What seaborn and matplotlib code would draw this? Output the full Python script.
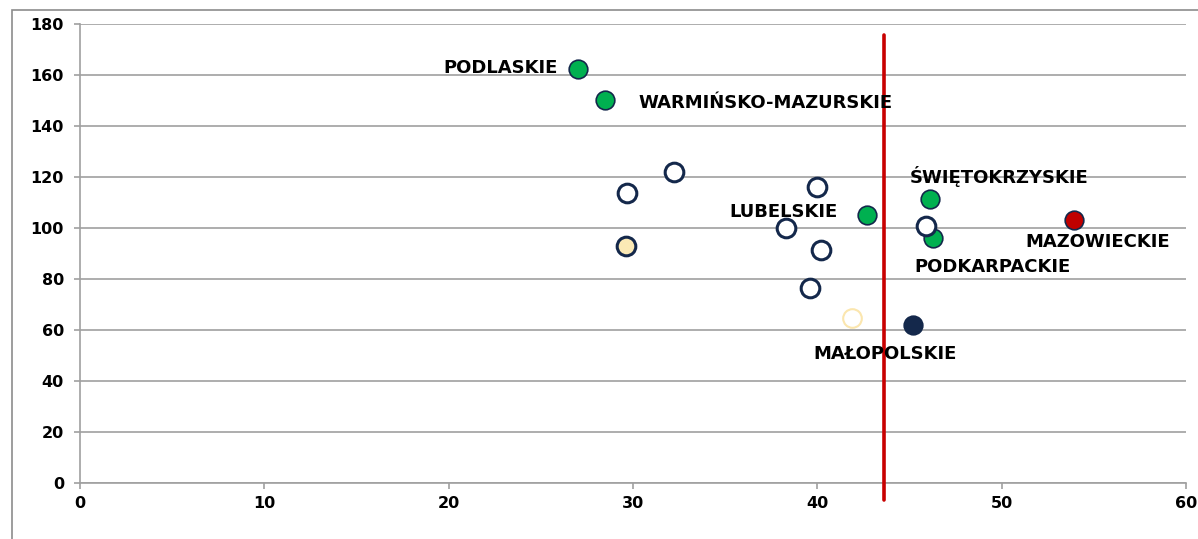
import matplotlib
matplotlib.use("Agg")
import matplotlib.pyplot as plt
from matplotlib.patches import Rectangle
import seaborn as sns
import pandas as pd

# ---- data ----
x_vals = [27.0, 28.5, 29.7, 32.2, 40.0, 38.3, 40.2, 39.6, 45.9, 29.6, 41.9, 45.2, 42.7, 46.1, 46.3, 53.9]
y_vals = [162.4, 150.2, 113.7, 122.0, 116.0, 100.0, 91.4, 76.5, 100.8, 92.9, 64.7, 62.0, 105.1, 111.4, 96.1, 103.1]
groups = ["green", "green", "open", "open", "open", "open", "open", "open", "open",
          "yellow", "pale", "navy", "green", "green", "green", "red"]

label_names = ["PODLASKIE", "WARMIŃSKO-MAZURSKIE", "ŚWIĘTOKRZYSKIE", "LUBELSKIE",
               "MAZOWIECKIE", "PODKARPACKIE", "MAŁOPOLSKIE"]
label_x = [25.9, 30.3, 45.0, 41.1, 51.3, 45.25, 39.8]
label_y = [162.7, 149.0, 120.0, 106.3, 94.5, 84.7, 50.6]
label_ha = ["right", "left", "left", "right", "left", "left", "left"]

threshold_x = 43.6
x_ticks = [0, 10, 20, 30, 40, 50, 60]
y_ticks = [0, 20, 40, 60, 80, 100, 120, 140, 160, 180]

df = pd.DataFrame({"x": x_vals, "y": y_vals, "g": groups})

navy = "#14284B"
styles = {
    "green": dict(color="#00B050", edgecolor=navy, linewidth=1.2),
    "open": dict(color="white", edgecolor=navy, linewidth=2.2),
    "yellow": dict(color="#FBE9B5", edgecolor=navy, linewidth=2.2),
    "pale": dict(color="white", edgecolor="#FBE6AE", linewidth=1.5),
    "navy": dict(color=navy, edgecolor=navy, linewidth=1.2),
    "red": dict(color="#C00000", edgecolor=navy, linewidth=1.2),
}

sns.set_theme(style="white")
plt.rcParams["font.family"] = ["DejaVu Sans"]

fig = plt.figure(figsize=(11.98, 5.39), dpi=100)
ax = fig.add_axes([80 / 1198, 1 - 483 / 539, (1186 - 80) / 1198, (483 - 24) / 539])

# outer chart border
fig.patches.append(Rectangle((12 / 1198, -0.05), 2.0, 1 - 10 / 539 + 0.05,
                             transform=fig.transFigure, fill=False,
                             edgecolor="#8C8C8C", linewidth=1.2))

for g, st in styles.items():
    sub = df[df["g"] == g]
    sns.scatterplot(data=sub, x="x", y="y", ax=ax, s=180, zorder=4, **st)

ax.plot([threshold_x, threshold_x], [175.7, -6.7], color="#C80000",
        linewidth=2.6, clip_on=False, zorder=5)

for name, lx, ly, ha in zip(label_names, label_x, label_y, label_ha):
    ax.text(lx, ly, name, ha=ha, va="center", fontsize=13,
            fontweight="bold", color="black", zorder=6)

ax.set_xlim(0, 60)
ax.set_ylim(0, 180)
ax.set_xticks(x_ticks)
ax.set_yticks(y_ticks)
ax.set_xlabel("")
ax.set_ylabel("")
ax.grid(axis="y", color="#A0A0A0", linewidth=1.2)
ax.grid(axis="x", visible=False)
for side in ["top", "right"]:
    ax.spines[side].set_visible(False)
for side in ["left", "bottom"]:
    ax.spines[side].set_color("#A0A0A0")
    ax.spines[side].set_linewidth(1.2)
ax.tick_params(axis="both", which="major", labelsize=11.5, length=4.5,
               color="#A0A0A0", width=1.2, direction="out",
               bottom=True, left=True, labelcolor="black")
ax.tick_params(axis="y", pad=7)
ax.tick_params(axis="x", pad=5)
for lbl in ax.get_xticklabels() + ax.get_yticklabels():
    lbl.set_fontweight("bold")
ax.set_axisbelow(True)

fig.savefig("out.png", dpi=100)
